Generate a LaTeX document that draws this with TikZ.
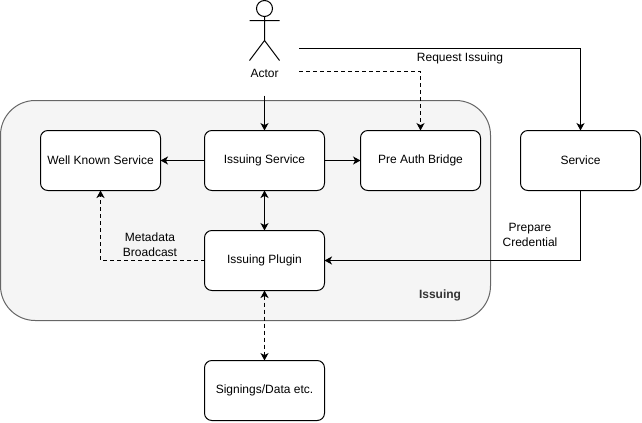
\documentclass[tikz,border=0pt]{standalone}
\usepackage{fontspec}
\setmainfont{Liberation Sans}
\usetikzlibrary{arrows.meta}
\definecolor{groupfill}{HTML}{F5F5F5}
\definecolor{groupline}{HTML}{666666}
\definecolor{grouptext}{HTML}{333333}
\tikzset{
  x=0.75pt,y=-0.75pt,
  every node/.style={font=\fontsize{9pt}{11.25pt}\selectfont,inner sep=0pt,outer sep=0pt},
  boxnode/.style={draw=black,fill=white,line width=0.75pt,rounded corners=5.5pt,minimum width=90pt,minimum height=45pt,align=center},
  groupnode/.style={draw=groupline,fill=groupfill,line width=0.75pt,rounded corners=26pt,minimum width=367.5pt,minimum height=165pt},
  textnode/.style={align=center,text=black},
  link/.style={draw=black,line width=0.75pt,-{Stealth[length=5.6pt,width=6pt,inset=1.5pt]}},
  linkboth/.style={draw=black,line width=0.75pt,{Stealth[length=5.6pt,width=6pt,inset=1.5pt]}-{Stealth[length=5.6pt,width=6pt,inset=1.5pt]}},
  dashlink/.style={link,dash pattern=on 3pt off 2.25pt},
  dashboth/.style={linkboth,dash pattern=on 3pt off 2.25pt},
  actorline/.style={draw=black,line width=0.75pt}
}
\begin{document}
\begin{tikzpicture}
\useasboundingbox (0,0) rectangle (642,422);
% group
\node[groupnode] (group) at (245.5,210.5) {};
\node[textnode,text=grouptext,font=\fontsize{9pt}{11.25pt}\selectfont\bfseries] (grouplabel) at (440,295) {Issuing};
% boxes
\node[boxnode] (wk) at (100.5,160.5) {Well Known Service};
\node[boxnode] (is) at (264.5,160.5) {Issuing Service};
\node[boxnode] (pa) at (420.5,160.5) {Pre Auth Bridge};
\node[boxnode] (sv) at (580.5,160.5) {Service};
\node[boxnode] (ip) at (264.5,260.5) {Issuing Plugin};
\node[boxnode] (sd) at (264.5,390.5) {Signings/Data etc.};
% actor
\draw[actorline] (264.5,8.5) circle[radius=6pt];
\draw[actorline] (264.5,16.5) -- (264.5,40.5) (249.5,20.5) -- (279.5,20.5) (249.5,60.5) -- (264.5,40.5) -- (279.5,60.5);
\node[textnode] (actor) at (264.5,73.5) {Actor};
% free ends
\coordinate (a1) at (264.5,95.5);
\coordinate (a2) at (299,48);
\coordinate (a3) at (299,71.5);
% connectors
\draw[link] (a1) -- (is.north);
\draw[link] (a2) -| (sv.north);
\draw[dashlink] (a3) -| (pa.north);
\draw[link] (is.west) -- (wk.east);
\draw[link] (is.east) -- (pa.west);
\draw[linkboth] (is.south) -- (ip.north);
\draw[link] (sv.south) |- (ip.east);
\draw[dashlink] (ip.west) -| (wk.south);
\draw[dashboth] (ip.south) -- (sd.north);
% labels
\node[textnode] (l1) at (460,58) {Request Issuing};
\node[textnode] (l2) at (150,245) {Metadata\\Broadcast};
\node[textnode] (l3) at (530,235) {Prepare\\Credential};
\end{tikzpicture}
\end{document}
